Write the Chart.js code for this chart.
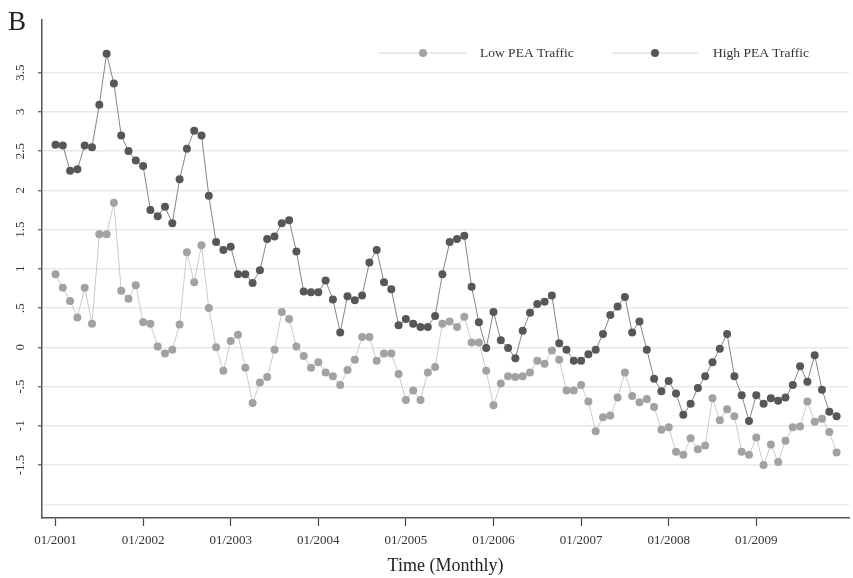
<!DOCTYPE html>
<html>
<head>
<meta charset="utf-8">
<script src="https://cdn.jsdelivr.net/npm/chart.js@4.4.1/dist/chart.umd.min.js"></script>
<style>
  html, body { margin: 0; padding: 0; background: #fff; }
  #chart { display: block; }
</style>
</head>
<body>
<canvas id="chart" width="853" height="578"></canvas>
<script>
// monthly index 0 = 01/2001 ... 107 = 12/2009
let lowPEA = [
  0.93, 0.76, 0.59, 0.38, 0.76, 0.30, 1.44, 1.44, 1.84, 0.72, 0.62, 0.79,
  0.32, 0.30, 0.01, -0.08, -0.03, 0.29, 1.21, 0.83, 1.30, 0.50, 0.00, -0.30,
  0.08, 0.16, -0.26, -0.71, -0.45, -0.38, -0.03, 0.45, 0.36, 0.01, -0.11, -0.26,
  -0.19, -0.32, -0.37, -0.48, -0.29, -0.16, 0.13, 0.13, -0.17, -0.08, -0.08, -0.34,
  -0.67, -0.55, -0.67, -0.32, -0.25, 0.30, 0.33, 0.26, 0.39, 0.06, 0.06, -0.30,
  -0.74, -0.46, -0.37, -0.38, -0.37, -0.32, -0.17, -0.21, -0.04, -0.16, -0.55, -0.55,
  -0.48, -0.69, -1.07, -0.89, -0.87, -0.64, -0.32, -0.62, -0.70, -0.66, -0.76, -1.05,
  -1.02, -1.33, -1.37, -1.16, -1.30, -1.25, -0.65, -0.93, -0.79, -0.88, -1.33, -1.37,
  -1.15, -1.50, -1.24, -1.46, -1.19, -1.02, -1.01, -0.69, -0.95, -0.91, -1.08, -1.34
];
let highPEA = [
  2.58, 2.57, 2.25, 2.27, 2.57, 2.55, 3.09, 3.74, 3.36, 2.70, 2.50, 2.38,
  2.31, 1.75, 1.67, 1.79, 1.58, 2.14, 2.53, 2.76, 2.70, 1.93, 1.34, 1.24,
  1.28, 0.93, 0.93, 0.82, 0.98, 1.38, 1.41, 1.58, 1.62, 1.22, 0.71, 0.70,
  0.70, 0.85, 0.61, 0.19, 0.65, 0.60, 0.66, 1.08, 1.24, 0.83, 0.74, 0.28,
  0.36, 0.30, 0.26, 0.26, 0.40, 0.93, 1.34, 1.38, 1.42, 0.77, 0.32, -0.01,
  0.45, 0.09, -0.01, -0.14, 0.21, 0.44, 0.55, 0.58, 0.66, 0.05, -0.03, -0.17,
  -0.17, -0.09, -0.03, 0.17, 0.41, 0.52, 0.64, 0.19, 0.33, -0.03, -0.40, -0.56,
  -0.43, -0.59, -0.86, -0.72, -0.52, -0.37, -0.19, -0.02, 0.17, -0.37, -0.61, -0.94,
  -0.61, -0.72, -0.65, -0.68, -0.64, -0.48, -0.24, -0.44, -0.10, -0.54, -0.82, -0.88
];
let seriesNames = ['Low PEA Traffic', 'High PEA Traffic'];

let xTickPos = [0, 12, 24, 36, 48, 60, 72, 84, 96];
let xTickLabels = ['01/2001', '01/2002', '01/2003', '01/2004', '01/2005', '01/2006', '01/2007', '01/2008', '01/2009'];
let yTickValues = [-2, -1.5, -1, -0.5, 0, 0.5, 1, 1.5, 2, 2.5, 3, 3.5];
let yTickLabels = ['', '-1.5', '-1', '-.5', '0', '.5', '1', '1.5', '2', '2.5', '3', '3.5'];

const SERIF = '"Liberation Serif", "DejaVu Serif", serif';
const lowColor = '#a2a2a2';
const highColor = '#575757';

// extra drawing: panel letter, rotated y labels, legend
const decorPlugin = {
  id: 'decor',
  afterDraw(chart) {
    const ctx = chart.ctx;
    const yScale = chart.scales.y;
    ctx.save();
    ctx.fillStyle = '#222';
    ctx.font = '27px ' + SERIF;
    ctx.textAlign = 'left';
    ctx.textBaseline = 'alphabetic';
    ctx.fillText('B', 8, 30);

    // y tick labels, rotated
    ctx.font = '13px ' + SERIF;
    ctx.fillStyle = '#333';
    yScale.ticks.forEach((t, i) => {
      const label = yTickLabels[i];
      if (!label) return;
      const y = yScale.getPixelForValue(t.value);
      ctx.save();
      ctx.translate(21, y);
      ctx.rotate(-Math.PI / 2);
      ctx.textAlign = 'center';
      ctx.textBaseline = 'middle';
      ctx.fillText(label, 0, 0);
      ctx.restore();
    });

    // legend
    const items = [
      { x0: 379, x1: 467, name: seriesNames[0], color: lowColor, tx: 480 },
      { x0: 612, x1: 698, name: seriesNames[1], color: highColor, tx: 713 }
    ];
    const ly = 53;
    ctx.font = '13.5px ' + SERIF;
    items.forEach(it => {
      ctx.strokeStyle = '#d4d4d4';
      ctx.lineWidth = 1;
      ctx.beginPath();
      ctx.moveTo(it.x0, ly);
      ctx.lineTo(it.x1, ly);
      ctx.stroke();
      ctx.fillStyle = it.color;
      ctx.beginPath();
      ctx.arc((it.x0 + it.x1) / 2, ly, 4, 0, Math.PI * 2);
      ctx.fill();
      ctx.fillStyle = '#333';
      ctx.textAlign = 'left';
      ctx.textBaseline = 'middle';
      ctx.fillText(it.name, it.tx, ly);
    });
    ctx.restore();
  }
};

let ctx = document.getElementById('chart').getContext('2d');
new Chart(ctx, {
  type: 'line',
  data: {
    datasets: [
      {
        label: seriesNames[0],
        data: lowPEA.map((v, i) => ({ x: i, y: v })),
        borderColor: '#cacaca',
        borderWidth: 1,
        pointBackgroundColor: lowColor,
        pointBorderColor: lowColor,
        pointBorderWidth: 0,
        pointRadius: 4,
        tension: 0,
        order: 1
      },
      {
        label: seriesNames[1],
        data: highPEA.map((v, i) => ({ x: i, y: v })),
        borderColor: '#858585',
        borderWidth: 1,
        pointBackgroundColor: highColor,
        pointBorderColor: highColor,
        pointBorderWidth: 0,
        pointRadius: 4,
        tension: 0,
        order: 0
      }
    ]
  },
  options: {
    responsive: false,
    animation: false,
    devicePixelRatio: 1,
    layout: { padding: { top: 20, left: 0, right: 0, bottom: 0 } },
    plugins: {
      legend: { display: false },
      tooltip: { enabled: false }
    },
    scales: {
      x: {
        type: 'linear',
        min: -1.85,
        max: 108.7,
        afterBuildTicks: scale => { scale.ticks = xTickPos.map(v => ({ value: v })); },
        afterFit: scale => { scale.height = 60; },
        ticks: {
          autoSkip: false,
          maxRotation: 0,
          padding: 7,
          color: '#333',
          font: { family: SERIF, size: 13 },
          callback: (value, index) => xTickLabels[index]
        },
        grid: {
          drawOnChartArea: false,
          drawTicks: true,
          tickLength: 8,
          tickColor: '#444',
          tickWidth: 1.2
        },
        border: { display: true, color: '#555', width: 1.5 },
        title: {
          display: true,
          text: 'Time (Monthly)',
          color: '#222',
          font: { family: SERIF, size: 18 },
          padding: { top: 0, bottom: 1 }
        }
      },
      y: {
        type: 'linear',
        min: -2.175,
        max: 4.17,
        afterBuildTicks: scale => { scale.ticks = yTickValues.map(v => ({ value: v })); },
        afterFit: scale => { scale.width = 42; },
        ticks: { display: false },
        grid: {
          color: '#e8e8e8',
          lineWidth: 1.5,
          drawTicks: true,
          tickLength: 4,
          tickWidth: 1.2,
          tickColor: c => (c.tick && c.tick.value === -2) ? 'rgba(0,0,0,0)' : '#555'
        },
        border: { display: true, color: '#555', width: 1.5 }
      }
    }
  },
  plugins: [decorPlugin]
});
</script>
</body>
</html>
